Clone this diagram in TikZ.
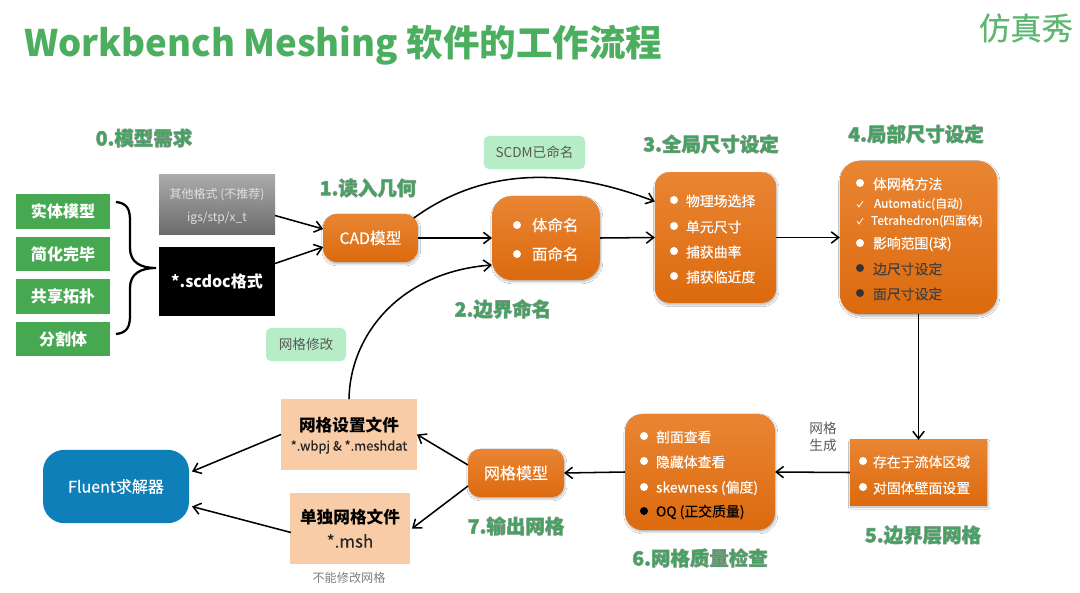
\documentclass[tikz,border=0pt]{standalone}
\usepackage{fontspec}
\setmainfont{Noto Sans CJK SC}
\newfontfamily\med[FakeBold=0.25]{Noto Sans CJK SC}
\usetikzlibrary{arrows.meta,shadows.blur,calc}
\definecolor{gbox}{HTML}{46A850}
\definecolor{lab}{HTML}{3FA45F}
\definecolor{ttl}{HTML}{4CAF60}
\definecolor{pale}{HTML}{B6EDC6}
\definecolor{peach}{HTML}{F8CCA6}
\definecolor{flu}{HTML}{0E7FB8}
\definecolor{otop}{HTML}{E98533}
\definecolor{obot}{HTML}{DC6A0E}
\newcommand\fs[1]{\fontsize{#1}{#1}\selectfont}
\newcommand\lb[1]{\special{pdf:code q 2 Tr 0.45 w 0.50 0.60 0.52 RG}#1\special{pdf:code Q}}
\tikzset{
  x=0.75pt,y=-0.75pt,
  box/.style={inner sep=0pt,outer sep=0pt,align=center},
  gb/.style={box,fill=gbox,minimum width=70.5pt,minimum height=26pt,text=white,font=\fs{12pt}\bfseries},
  orange/.style={box,top color=otop,bottom color=obot,blur shadow={shadow blur steps=6,shadow xshift=.6pt,shadow yshift=-1.4pt,shadow opacity=30,shadow blur radius=1.5pt},text=white},
  peachb/.style={box,fill=peach,text=black},
  paleb/.style={box,fill=pale,rounded corners=4pt,text=black!65,font=\fs{10.2pt}},
  lbl/.style={box,text=lab,font=\fs{14.6pt}\bfseries},
  itm/.style={box,anchor=west,text=white,font=\med\fs{10.4pt}},
  dk/.style={text=black!75},
  dot/.style={circle,fill=white,inner sep=0pt,minimum size=6pt},
  dotk/.style={dot,fill=black!80},
  arr/.style={draw=black,line width=1.15pt,-{Straight Barb[length=5.5pt,width=8.5pt,line width=1.15pt]}},
}
\begin{document}
\begin{tikzpicture}
\useasboundingbox (0,0) rectangle (1080,592);
\fill[white] (0,0) rectangle (1080,592);
% title
\node[box,anchor=west,text=ttl,font=\fs{27.4pt}\bfseries] (title) at (24,45) {Workbench Meshing 软件的工作流程};
\node[box,anchor=east,text=ttl!90!white,font=\med\fs{23.5pt}] (logo) at (1073,28) {仿真秀};
% left
\node[gb] (g1) at (63,211.5) {实体模型};
\node[gb] (g2) at (63,254) {简化完毕};
\node[gb] (g3) at (63,296.5) {共享拓扑};
\node[gb] (g4) at (63,339) {分割体};
\coordinate (bt) at (116,202);
\coordinate (bb) at (116,334);
\coordinate (bm) at (156,268);
\draw[line width=1.7pt] (bt) .. controls (126,203) and (130,208) .. (130,220) -- (130,248)
   .. controls (130,262) and (140,268) .. (bm)
   .. controls (140,268) and (130,274) .. (130,288) -- (130,316)
   .. controls (130,328) and (126,333) .. (bb);
\node[box,top color=black!33,bottom color=black!58,minimum width=87pt,minimum height=44.5pt] (grey) at (217,204.5) {};
\node[box,text=white!88!black,font=\fs{9pt}] (grey1) at (217,195) {其他格式 (不推荐)};
\node[box,text=white!88!black,font=\fs{9pt}] (grey2) at (217,218) {igs/stp/x\_t};
\node[box,fill=black,text=white,minimum width=87pt,minimum height=52pt,font=\fs{12pt}\bfseries] (scdoc) at (217,281.5) {*.scdoc格式};
% orange
\node[orange,rounded corners=10pt,minimum width=71pt,minimum height=36pt,font=\med\fs{11.8pt}] (cad) at (370.5,238) {CAD模型};
\node[orange,rounded corners=15pt,minimum width=81pt,minimum height=63pt] (name) at (546,238) {};
\node[orange,rounded corners=11pt,minimum width=91pt,minimum height=98pt] (glob) at (715.5,237.5) {};
\node[orange,rounded corners=15pt,minimum width=118pt,minimum height=115pt] (loc) at (918.5,237.5) {};
\node[orange,minimum width=103pt,minimum height=49pt] (bl) at (918.5,472.5) {};
\node[orange,rounded corners=13pt,minimum width=112.5pt,minimum height=87pt] (qual) at (700,472) {};
\node[orange,rounded corners=9pt,minimum width=72pt,minimum height=36pt,font=\med\fs{12pt}] (mesh) at (516,473) {网格模型};
% items
\node[dot] (n1d) at (517,225) {}; \node[itm,font=\med\fs{11.6pt}] (n1) at (532,225) {体命名};
\node[dot] (n2d) at (517,254) {}; \node[itm,font=\med\fs{11.6pt}] (n2) at (532,254) {面命名};
\node[dot] (c1d) at (674,200) {}; \node[itm] (c1) at (686,201) {物理场选择};
\node[dot] (c2d) at (674,226) {}; \node[itm] (c2) at (686,227) {单元尺寸};
\node[dot] (c3d) at (674,251) {}; \node[itm] (c3) at (686,252) {捕获曲率};
\node[dot] (c4d) at (674,276) {}; \node[itm] (c4) at (686,277) {捕获临近度};
\node[dot] (l1d) at (860,183) {}; \node[itm] (l1) at (873,184) {体网格方法};
\node[itm,font=\med\fs{8.9pt}] (l2) at (874,204) {Automatic(自动)};
\node[itm,font=\med\fs{8.9pt}] (l3) at (871,221) {Tetrahedron(四面体)};
\draw[white,line width=.6pt] (857,204) -- (859,207) -- (863,201);
\draw[white,line width=.6pt] (857,221) -- (859,224) -- (863,218);
\node[dot] (l4d) at (860,243) {}; \node[itm] (l4) at (873,244) {影响范围(球)};
\node[dotk] (l5d) at (860,268) {}; \node[itm,dk] (l5) at (873,269) {边尺寸设定};
\node[dotk] (l6d) at (860,293) {}; \node[itm,dk] (l6) at (873,294) {面尺寸设定};
\node[dot] (b1d) at (863,461) {}; \node[itm] (b1) at (873,462) {存在于流体区域};
\node[dot] (b2d) at (863,487) {}; \node[itm] (b2) at (873,488) {对固体壁面设置};
\node[dot] (q1d) at (644,436) {}; \node[itm] (q1) at (656,437) {剖面查看};
\node[dot] (q2d) at (644,461) {}; \node[itm] (q2) at (656,462) {隐藏体查看};
\node[dot] (q3d) at (644,487) {}; \node[itm] (q3) at (656,488) {skewness (偏度)};
\node[dotk,fill=black] (q4d) at (644,511) {}; \node[itm,text=black] (q4) at (656,512) {OQ (正交质量)};
% files
\node[peachb,minimum width=102pt,minimum height=53pt] (f1) at (349,434.5) {};
\node[box,font=\fs{12.5pt}\bfseries] (f1a) at (349,425) {网格设置文件};
\node[box,font=\med\fs{9.7pt},text=black!85] (f1b) at (349,447) {*.wbpj \& *.meshdat};
\node[peachb,minimum width=90pt,minimum height=53pt] (f2) at (350,528.5) {};
\node[box,font=\fs{12.5pt}\bfseries] (f2a) at (350,517) {单独网格文件};
\node[box,font=\med\fs{12.7pt},text=black!85] (f2b) at (350,541) {*.msh};
\node[box,fill=flu,rounded corners=16pt,minimum width=109.5pt,minimum height=55pt,text=white,font=\med\fs{12pt}] (fluent) at (116,486.5) {Fluent求解器};
\node[box,font=\fs{9.1pt},text=black!50] (nomod) at (349,578) {不能修改网格};
\node[paleb,minimum width=60pt,minimum height=25pt] (p1) at (306,344.5) {网格修改};
\node[paleb,minimum width=76pt,minimum height=25pt] (p2) at (534.5,152.5) {SCDM已命名};
\node[box,font=\fs{10.2pt},text=black!65] (gen) at (823,437) {网格\\[3pt]生成};
% labels
\node[lbl] (s0) at (144,138) {\lb{0.模型需求}};
\node[lbl] (s1) at (368,188) {\lb{1.读入几何}};
\node[lbl] (s2) at (503,309) {\lb{2.边界命名}};
\node[lbl] (s3) at (711,144) {\lb{3.全局尺寸设定}};
\node[lbl] (s4) at (916,134) {\lb{4.局部尺寸设定}};
\node[lbl] (s5) at (923,535) {\lb{5.边界层网格}};
\node[lbl] (s6) at (700,558) {\lb{6.网格质量检查}};
\node[lbl] (s7) at (516,526) {\lb{7.输出网格}};
% connectors
\draw[arr] ($(grey.east)+(0,11)$) -- ($(cad.west)+(0,-9)$);
\draw[arr] ($(scdoc.east)+(0,-18)$) -- ($(cad.west)+(0,9)$);
\draw[arr] ($(cad.east)+(-4,-20)$) .. controls (480,170) and (560,165) .. ($(glob.west)+(0,-36)$);
\draw[arr] (cad.east) -- (name.west);
\draw[arr] (name.east) -- (glob.west);
\draw[arr] (glob.east) -- (loc.west);
\draw[arr] (loc.south) -- (bl.north);
\draw[arr] (bl.west) -- (qual.east);
\draw[arr] (qual.west) -- (mesh.east);
\draw[arr] ($(mesh.west)+(0,-8)$) -- (f1.east);
\draw[arr] ($(mesh.west)+(0,13)$) -- ($(f2.east)+(2,0)$);
\draw[arr] (f1.west) -- ($(fluent.east)+(3,-15)$);
\draw[arr] ($(f2.west)+(1,4)$) -- ($(fluent.east)+(3,20)$);
\draw[arr] (f1.north) .. controls (350,335) and (400,272) .. ($(name.west)+(0,27)$);
\end{tikzpicture}
\end{document}
